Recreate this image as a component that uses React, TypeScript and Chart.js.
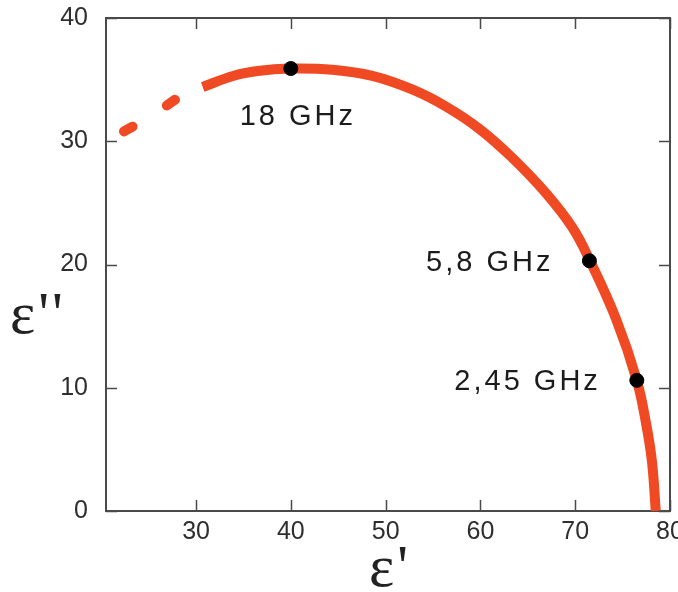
import React, { useEffect, useRef } from "react";
import { Chart, registerables } from "chart.js";

Chart.register(...registerables);

// Extrapolated (dashed) part of the Cole-Cole arc
const dashedEpsReal = [22.4, 23.8, 25.3, 26.7, 28.3, 29.6, 30.7];
const dashedEpsImag = [30.8, 31.4, 32.1, 32.8, 33.6, 34.0, 34.4];

// Solid part of the arc
const solidEpsReal = [30.7, 33.9, 36.5, 39.9, 44.4, 48.6, 52.8, 56.4, 59.9, 63.3, 66.9, 69.7, 71.5, 74.3, 76.5, 77.5, 78.1, 78.5];
const solidEpsImag = [34.4, 35.3, 35.7, 35.9, 35.8, 35.3, 34.2, 32.8, 31.0, 28.7, 25.8, 23.0, 20.4, 15.6, 10.6, 7.0, 4.0, 0.0];

// Marked frequencies
const freqLabels = ["18 GHz", "5,8 GHz", "2,45 GHz"];
const freqEpsReal = [40.0, 71.5, 76.5];
const freqEpsImag = [35.9, 20.3, 10.6];

// Axes
const xTickValues = [30, 40, 50, 60, 70, 80];
const yTickValues = [0, 10, 20, 30, 40];
const xMin = 20.5;
const xMax = 80;
const yMin = 0;
const yMax = 40;

const CURVE = "#EF4A23";
const AXIS = "#4a4a4a";
const TEXT = "#2e2e2e";

const toPoints = (xs: number[], ys: number[]) => xs.map((x, i) => ({ x, y: ys[i] }));

const framePlugin = {
  id: "frame",
  beforeDatasetsDraw(chart: any) {
    const { ctx, chartArea: a, scales } = chart;
    ctx.save();
    ctx.strokeStyle = AXIS;
    ctx.lineWidth = 2;
    ctx.strokeRect(a.left, a.top, a.right - a.left, a.bottom - a.top);
    const len = 11;
    ctx.beginPath();
    xTickValues.forEach((v) => {
      const px = Math.round(scales.x.getPixelForValue(v)) + 0.5;
      ctx.moveTo(px, a.bottom);
      ctx.lineTo(px, a.bottom - len);
      ctx.moveTo(px, a.top);
      ctx.lineTo(px, a.top + len);
    });
    yTickValues.forEach((v) => {
      const py = Math.round(scales.y.getPixelForValue(v)) + 0.5;
      ctx.moveTo(a.left, py);
      ctx.lineTo(a.left + len, py);
      ctx.moveTo(a.right, py);
      ctx.lineTo(a.right - len, py);
    });
    ctx.lineWidth = 1.5;
    ctx.stroke();
    ctx.restore();
  },
  afterDatasetsDraw(chart: any) {
    const { ctx, chartArea: a, scales } = chart;
    ctx.save();
    ctx.fillStyle = "#1c1c1c";
    ctx.font = "29px 'Liberation Sans', Arial, sans-serif";
    (ctx as any).letterSpacing = "3px";
    ctx.textBaseline = "middle";
    freqLabels.forEach((label, i) => {
      const px = scales.x.getPixelForValue(freqEpsReal[i]);
      const py = scales.y.getPixelForValue(freqEpsImag[i]);
      if (i === 0) {
        ctx.textAlign = "center";
        ctx.fillText(label, px + 7, py + 48);
      } else {
        ctx.textAlign = "right";
        ctx.fillText(label, px - 36, py + 2);
      }
    });
    // axis titles
    (ctx as any).letterSpacing = "3px";
    ctx.fillStyle = "#222";
    ctx.font = "60px 'Liberation Serif', 'Times New Roman', serif";
    ctx.textAlign = "left";
    ctx.textBaseline = "alphabetic";
    ctx.fillText("\u03B5''", 10, (a.top + a.bottom) / 2 + 68);
    ctx.textAlign = "center";
    ctx.fillText("\u03B5'", (a.left + a.right) / 2 + 2, 586);
    ctx.restore();
  },
};

export default function App() {
  const ref = useRef<HTMLCanvasElement>(null);
  useEffect(() => {
    document.body.style.margin = "0";
    const chart = new Chart(ref.current!, {
      type: "scatter",
      data: {
        datasets: [
          {
            type: "line",
            data: toPoints(dashedEpsReal, dashedEpsImag),
            borderColor: CURVE,
            borderWidth: 10,
            borderDash: [10, 40],
            borderCapStyle: "round",
            pointRadius: 0,
            tension: 0.4,
            showLine: true,
            order: 2,
          },
          {
            type: "line",
            data: toPoints(solidEpsReal, solidEpsImag),
            borderColor: CURVE,
            borderWidth: 10,
            borderCapStyle: "butt",
            pointRadius: 0,
            tension: 0.4,
            showLine: true,
            order: 1,
          },
          {
            data: toPoints(freqEpsReal, freqEpsImag),
            backgroundColor: "#000",
            borderColor: "#000",
            pointRadius: 7,
            showLine: false,
            order: 0,
          },
        ],
      } as any,
      options: {
        animation: false,
        responsive: false,
        devicePixelRatio: 1,
        layout: { padding: { top: 18, right: 7, left: 0, bottom: 0 } },
        plugins: { legend: { display: false }, tooltip: { enabled: false } },
        scales: {
          x: {
            type: "linear",
            min: xMin,
            max: xMax,
            grid: { display: false, drawTicks: false },
            border: { display: false },
            afterBuildTicks: (s: any) => {
              s.ticks = xTickValues.map((v) => ({ value: v }));
            },
            afterFit: (s: any) => {
              s.height = 81;
              s.paddingLeft = 0;
              s.paddingRight = 0;
            },
            ticks: {
              padding: 6,
              color: TEXT,
              font: { family: "'Liberation Sans', Arial, sans-serif", size: 25 },
              maxRotation: 0,
              autoSkip: false,
            },
          },
          y: {
            type: "linear",
            min: yMin,
            max: yMax,
            grid: { display: false, drawTicks: false },
            border: { display: false },
            afterBuildTicks: (s: any) => {
              s.ticks = yTickValues.map((v) => ({ value: v }));
            },
            afterFit: (s: any) => {
              s.width = 106;
              s.paddingTop = 0;
              s.paddingBottom = 0;
            },
            ticks: {
              padding: 18,
              color: TEXT,
              font: { family: "'Liberation Sans', Arial, sans-serif", size: 25 },
              autoSkip: false,
            },
          },
        },
      } as any,
      plugins: [framePlugin],
    });
    return () => chart.destroy();
  }, []);
  return (
    <div style={{ width: 678, height: 592 }}>
      <canvas ref={ref} width={678} height={592} />
    </div>
  );
}
